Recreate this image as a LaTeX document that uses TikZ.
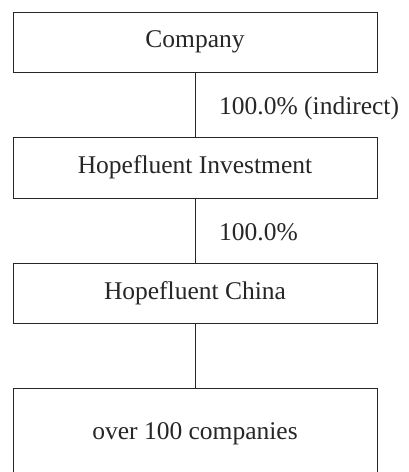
\documentclass[tikz,border=0pt]{standalone}
\usepackage{fontspec}
\setmainfont{Liberation Serif}
\begin{document}
\begin{tikzpicture}[x=1pt,y=-1pt,
  box/.style={draw=black!85,line width=1pt,minimum width=364pt,inner sep=0pt,font=\fontsize{25.5}{30}\selectfont,text=black!85},
  lbl/.style={anchor=base west,inner sep=0pt,font=\fontsize{25.5}{30}\selectfont,text=black!85},
  conn/.style={draw=black!85,line width=1pt}]
\useasboundingbox (0,0) rectangle (408,472);
\clip (0,0) rectangle (408,472);
\node[box,minimum height=60pt] (b1) at (195,42) {Company};
\node[box,minimum height=61pt] (b2) at (195,167.5) {Hopefluent Investment};
\node[box,minimum height=60pt] (b3) at (195,293) {Hopefluent China};
\node[box,minimum height=92pt] (b4) at (195,434) {over 100 companies};
\draw[conn] (b1.south) -- (b2.north);
\draw[conn] (b2.south) -- (b3.north);
\draw[conn] (b3.south) -- (b4.north);
\node[lbl] (l1) at (219,114) {100.0\% (indirect)};
\node[lbl] (l2) at (219,240) {100.0\%};
\end{tikzpicture}
\end{document}
